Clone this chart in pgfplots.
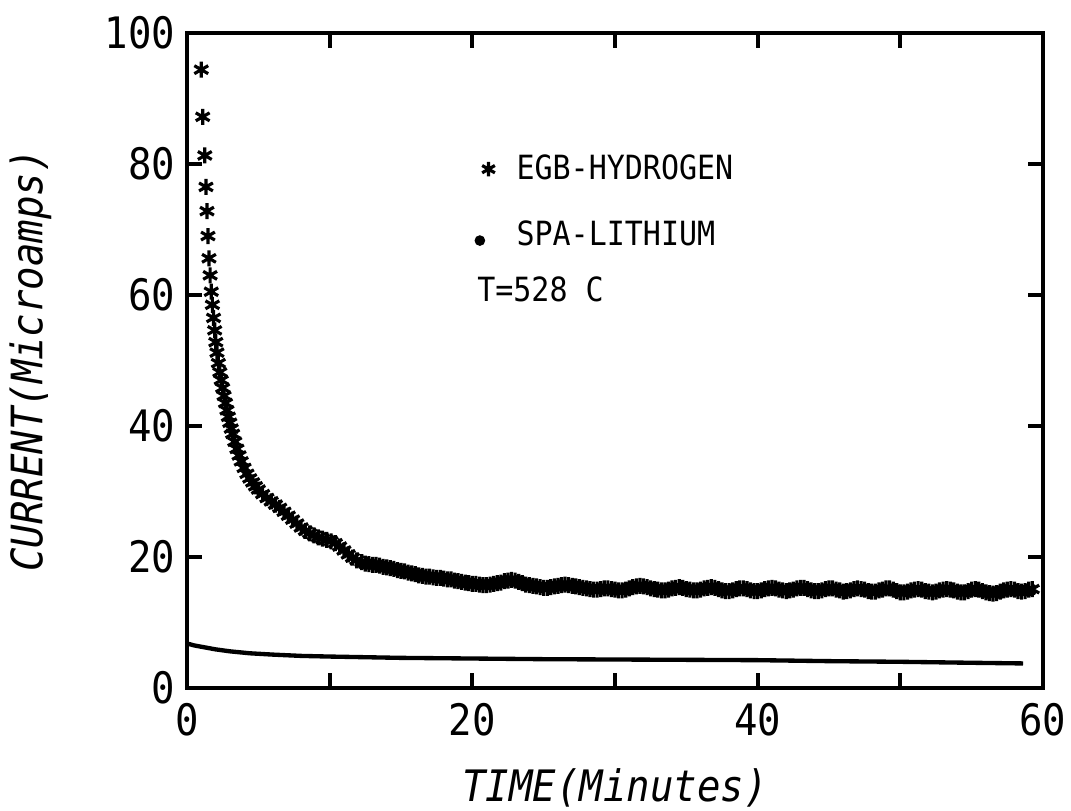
\documentclass[border=0pt]{standalone}
\usepackage{fontspec}
\setmainfont{DejaVu Sans Mono}[FakeStretch=0.9]
\usepackage{pgfplots}
\pgfplotsset{compat=1.18}
\usepackage{pgfplotstable}

\pgfplotstableread{
t y
1.00 94.4
1.10 87.2
1.25 81.3
1.33 76.5
1.40 72.8
1.47 69.0
1.54 65.6
1.62 63.0
1.70 60.5
1.78 58.5
1.86 56.5
1.94 54.6
2.02 52.8
2.10 51.2
2.20 49.6
2.30 48.2
2.40 47.0
2.50 45.8
2.60 44.6
2.70 43.5
2.80 42.4
2.90 41.4
3.00 40.5
3.10 39.6
3.20 38.8
3.35 37.6
3.50 36.5
3.65 35.5
3.80 34.6
4.00 33.6
4.20 32.7
4.40 32.0
4.60 31.4
4.80 30.8
5.00 30.3
5.30 29.6
5.60 29.0
5.90 28.5
6.20 28.0
6.50 27.5
6.80 26.9
7.10 26.3
7.40 25.7
7.70 25.1
8.00 24.5
8.30 24.0
8.60 23.6
8.90 23.3
9.20 23.0
9.50 22.8
9.80 22.6
10.10 22.4
10.40 22.1
10.70 21.6
11.00 21.0
11.30 20.4
11.60 19.9
11.90 19.5
12.25 19.2
12.50 19.0
12.75 18.9
13.00 18.8
13.25 18.8
13.50 18.7
13.75 18.5
14.00 18.4
14.25 18.3
14.50 18.2
14.75 18.0
15.00 17.9
15.25 17.8
15.50 17.6
15.75 17.5
16.00 17.4
16.25 17.2
16.50 17.1
16.75 17.0
17.00 17.0
17.25 16.9
17.50 16.8
17.75 16.8
18.00 16.7
18.25 16.6
18.50 16.6
18.75 16.4
19.00 16.3
19.25 16.2
19.50 16.1
19.75 16.0
20.00 15.9
20.25 15.9
20.50 15.8
20.75 15.7
21.00 15.7
21.25 15.8
21.50 15.9
21.75 16.0
22.00 16.1
22.25 16.3
22.50 16.4
22.75 16.5
23.00 16.4
23.25 16.2
23.50 16.0
23.75 15.8
24.00 15.7
24.25 15.6
24.50 15.5
24.75 15.4
25.00 15.3
25.25 15.3
25.50 15.4
25.75 15.5
26.00 15.6
26.25 15.7
26.50 15.8
26.75 15.7
27.00 15.6
27.25 15.5
27.50 15.4
27.75 15.3
28.00 15.2
28.25 15.1
28.50 15.0
28.75 15.0
29.00 15.1
29.25 15.2
29.50 15.2
29.75 15.1
30.00 15.0
30.25 14.9
30.50 14.9
30.75 15.0
31.00 15.2
31.25 15.4
31.50 15.5
31.75 15.6
32.00 15.5
32.25 15.4
32.50 15.2
32.75 15.1
33.00 15.0
33.25 14.9
33.50 14.9
33.75 15.0
34.00 15.2
34.25 15.3
34.50 15.4
34.75 15.3
35.00 15.1
35.25 15.0
35.50 14.9
35.75 14.9
36.00 15.0
36.25 15.2
36.50 15.3
36.75 15.4
37.00 15.3
37.25 15.1
37.50 14.9
37.75 14.8
38.00 14.8
38.25 14.9
38.50 15.1
38.75 15.2
39.00 15.2
39.25 15.1
39.50 14.9
39.75 14.8
40.00 14.8
40.25 14.9
40.50 15.1
40.75 15.2
41.00 15.3
41.25 15.2
41.50 15.0
41.75 14.9
42.00 14.8
42.25 14.9
42.50 15.0
42.75 15.2
43.00 15.3
43.25 15.3
43.50 15.1
43.75 14.9
44.00 14.8
44.25 14.8
44.50 14.9
44.75 15.1
45.00 15.2
45.25 15.2
45.50 15.0
45.75 14.9
46.00 14.7
46.25 14.8
46.50 14.9
46.75 15.1
47.00 15.2
47.25 15.1
47.50 15.0
47.75 14.8
48.00 14.7
48.25 14.7
48.50 14.9
48.75 15.0
49.00 15.2
49.25 15.2
49.50 15.0
49.75 14.8
50.00 14.6
50.25 14.6
50.50 14.7
50.75 14.9
51.00 15.0
51.25 15.1
51.50 15.0
51.75 14.8
52.00 14.7
52.25 14.6
52.50 14.7
52.75 14.9
53.00 15.0
53.25 15.1
53.50 15.0
53.75 14.9
54.00 14.7
54.25 14.6
54.50 14.6
54.75 14.8
55.00 15.0
55.25 15.1
55.50 15.0
55.75 14.8
56.00 14.6
56.25 14.5
56.50 14.4
56.75 14.5
57.00 14.7
57.25 14.9
57.50 15.0
57.75 15.1
58.00 15.0
58.25 14.8
58.50 14.7
58.75 14.8
59.00 15.0
59.25 15.1
}\egb

\pgfplotstableread{
t y
0.0 6.8
0.5 6.5
1.0 6.3
2.0 5.9
3.0 5.6
4.4 5.3
6.0 5.1
8.0 4.9
10.0 4.8
15.0 4.6
20.0 4.5
25.0 4.4
30.0 4.35
35.0 4.3
40.0 4.25
45.0 4.1
50.0 4.0
55.0 3.85
58.6 3.75
}\spa

\begin{document}
\begin{tikzpicture}
\path[use as bounding box] (-56.1pt,-36.9pt) rectangle (265.2pt,206.4pt);
\begin{axis}[
  at={(0,0)}, anchor=south west,
  scale only axis,
  width=256.8pt, height=196.5pt,
  xmin=0, xmax=60, ymin=0, ymax=100,
  axis line style={line width=1.2pt},
  tick style={line width=1.2pt, black},
  major tick length=4.5pt,
  tick align=inside,
  xtick={0,10,20,30,40,50,60},
  xticklabels={0,,20,,40,,60},
  ytick={0,20,40,60,80,100},
  yticklabels={0,20,40,60,80,100},
  /pgf/number format/assume math mode=true,
  tick label style={font=\fontsize{13}{15}\selectfont},
  xticklabel style={yshift=-1pt},
  xlabel={\itshape TIME(Minutes)},
  ylabel={\itshape CURRENT(Microamps)},
  label style={font=\fontsize{13}{15}\selectfont},
  xlabel style={at={(axis description cs:0.5,-0.152)}, anchor=center},
  ylabel style={at={(axis description cs:-0.183,0.5)}, anchor=center},
  clip=false,
  legend cell align=left,
  legend style={draw=none, fill=none, at={(axis cs:20.12,82.6)}, anchor=north west,
    font=\fontsize{10}{12}\selectfont, row sep=7pt, inner sep=0pt},
]
\addplot[only marks, mark=asterisk, mark size=2.4pt, mark options={line width=0.95pt},
  legend image code/.code={\draw[only marks, mark=asterisk, mark size=2.2pt, line width=0.8pt] plot coordinates {(0.1cm,0cm)};}]
  table[x=t,y=y] {\egb};
\addlegendentry{\hspace{4.5pt}EGB-HYDROGEN}
\addplot[line width=1.3pt, black,
  legend image code/.code={\fill (0.1cm-2.6pt,-1.5pt) circle (0.9pt);}]
  table[x=t,y=y] {\spa};
\addlegendentry{\hspace{4.5pt}SPA-LITHIUM}
\node[anchor=west, font=\fontsize{10}{12}\selectfont, inner sep=0pt] at (axis cs:20.3,60.9) {T=528 C};
\end{axis}
\end{tikzpicture}
\end{document}
